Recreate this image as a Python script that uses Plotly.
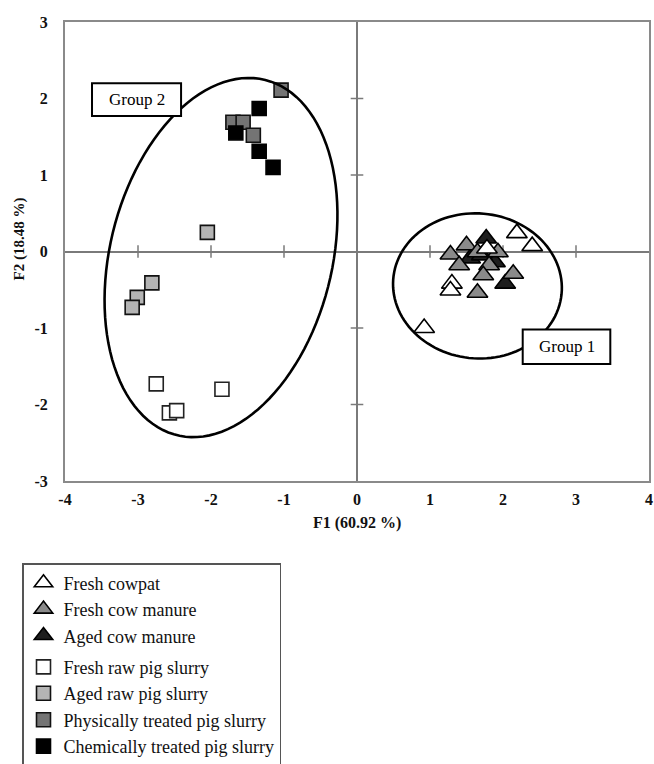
import numpy as np
import plotly.graph_objects as go

# ---------------- data ----------------
fresh_cowpat_x = [2.19, 2.40, 1.30, 1.28, 0.92, 1.78]
fresh_cowpat_y = [0.24, 0.07, -0.42, -0.51, -1.00, 0.04]

fresh_cow_manure_x = [1.28, 1.50, 1.65, 1.40, 1.93, 1.81, 1.73, 2.14, 1.65]
fresh_cow_manure_y = [-0.04, 0.08, -0.01, -0.18, -0.01, -0.18, -0.31, -0.29, -0.54]

aged_cow_manure_x = [1.77, 1.55, 2.03, 1.89, 1.71]
aged_cow_manure_y = [0.17, -0.09, -0.42, -0.14, -0.05]

fresh_raw_pig_x = [-2.75, -1.85, -2.57, -2.47]
fresh_raw_pig_y = [-1.73, -1.80, -2.11, -2.08]

aged_raw_pig_x = [-2.05, -2.81, -3.01, -3.08]
aged_raw_pig_y = [0.25, -0.41, -0.60, -0.73]

phys_pig_x = [-1.04, -1.70, -1.56, -1.42]
phys_pig_y = [2.11, 1.69, 1.69, 1.52]

chem_pig_x = [-1.34, -1.66, -1.34, -1.15]
chem_pig_y = [1.87, 1.55, 1.31, 1.10]

x_ticks = [-4, -3, -2, -1, 0, 1, 2, 3, 4]
y_ticks = [-3, -2, -1, 0, 1, 2, 3]

# ---------------- layout constants ----------------
W, H = 654, 764
ML, MR, MT, MB = 65, 5, 22, 283
SX = (W - ML - MR) / 8.0
SY = (H - MT - MB) / 6.0
SERIF = "Liberation Serif"


def ellipse_path(cx, cy, a_px, b_px, theta_deg, n=120):
    th = np.radians(theta_deg)
    t = np.linspace(0, 2 * np.pi, n)
    ux, uy = np.sin(th) / SX, np.cos(th) / SY
    vx, vy = np.cos(th) / SX, -np.sin(th) / SY
    xs = cx + a_px * np.cos(t) * ux + b_px * np.sin(t) * vx
    ys = cy + a_px * np.cos(t) * uy + b_px * np.sin(t) * vy
    d = "M " + " L ".join(f"{x:.4f},{y:.4f}" for x, y in zip(xs, ys)) + " Z"
    return d


fig = go.Figure()


def add(name, xs, ys, symbol, fill, line_col, rank, group, size):
    fig.add_trace(go.Scatter(
        x=xs, y=ys, mode="markers", name=name, legendrank=rank,
        legendgroup=group,
        marker=dict(symbol=symbol, size=size, color=fill,
                    line=dict(color=line_col, width=1.6)),
        hoverinfo="skip"))


# tick marks crossing the zero lines
xt = [v for v in x_ticks if v not in (0, -4, 4)]
yt = [v for v in y_ticks if v not in (0, -3, 3)]
fig.add_trace(go.Scatter(x=xt, y=[0] * len(xt), mode="markers", showlegend=False,
                         marker=dict(symbol="line-ns", size=9, line=dict(color="#7a7a7a", width=1.5)),
                         hoverinfo="skip"))
fig.add_trace(go.Scatter(x=[0] * len(yt), y=yt, mode="markers", showlegend=False,
                         marker=dict(symbol="line-ew", size=9, line=dict(color="#7a7a7a", width=1.5)),
                         hoverinfo="skip"))

add("Aged cow manure", aged_cow_manure_x, aged_cow_manure_y, "triangle-up", "#1e1e1e", "#000", 3, "g1", 18)
add("Fresh cow manure", fresh_cow_manure_x, fresh_cow_manure_y, "triangle-up", "#8a8a8a", "#000", 2, "g1", 18)
add("Fresh cowpat", fresh_cowpat_x, fresh_cowpat_y, "triangle-up", "#ffffff", "#000", 1, "g1", 18)
add("Fresh raw pig slurry", fresh_raw_pig_x, fresh_raw_pig_y, "square", "#ffffff", "#222", 4, "g2", 14)
add("Aged raw pig slurry", aged_raw_pig_x, aged_raw_pig_y, "square", "#b4b4b4", "#111", 5, "g2", 14)
add("Physically treated pig slurry", phys_pig_x, phys_pig_y, "square", "#747474", "#111", 6, "g2", 14)
add("Chemically treated pig slurry", chem_pig_x, chem_pig_y, "square", "#000000", "#000", 7, "g2", 14)

shapes = [
    dict(type="path", path=ellipse_path(-1.863, -0.079, 183, 111, 14),
         line=dict(color="#000", width=2.6), layer="above"),
    dict(type="path", path=ellipse_path(1.65, -0.45, 72.5, 84.5, 5),
         line=dict(color="#000", width=2.6), layer="above"),
    dict(type="rect", x0=-3.63, x1=-2.41, y0=1.77, y1=2.20,
         line=dict(color="#000", width=2), fillcolor="#fff", layer="above"),
    dict(type="rect", x0=2.27, x1=3.47, y0=-1.47, y1=-1.02,
         line=dict(color="#000", width=2), fillcolor="#fff", layer="above"),
]

title_font = dict(family=SERIF, size=16, color="#111", weight="bold")
annotations = [
    dict(x=-3.02, y=1.985, text="Group 2", showarrow=False,
         font=dict(family=SERIF, size=17, color="#000")),
    dict(x=2.87, y=-1.245, text="Group 1", showarrow=False,
         font=dict(family=SERIF, size=17, color="#000")),
    dict(xref="paper", yref="paper", x=0.5, y=0, yanchor="middle", xanchor="center",
         yshift=-42, text="F1 (60.92 %)", showarrow=False, font=title_font),
    dict(xref="paper", yref="paper", x=0, y=0.5, yanchor="middle", xanchor="center",
         xshift=-(ML - 19), yshift=12, textangle=-90, text="F2 (18.48 %)",
         showarrow=False, font=dict(family=SERIF, size=15, color="#111", weight="bold")),
]

axis_common = dict(showgrid=False, zeroline=True, zerolinecolor="#7a7a7a", zerolinewidth=1.5,
                   showline=True, mirror=True, linecolor="#8a8a8a", linewidth=2,
                   ticks="", automargin=False, ticklabeloverflow="allow",
                   tickfont=dict(family=SERIF, size=16, color="#111", weight="bold"))

fig.update_layout(
    width=W, height=H,
    margin=dict(l=ML, r=MR, t=MT, b=MB, autoexpand=False),
    paper_bgcolor="#fff", plot_bgcolor="#fff",
    xaxis=dict(range=[-4, 4], tickvals=x_ticks, ticktext=[str(v) for v in x_ticks],
               ticklabelstandoff=3, **axis_common),
    yaxis=dict(range=[-3, 3], tickvals=y_ticks, ticktext=[str(v) for v in y_ticks],
               ticklabelstandoff=12, **axis_common),
    shapes=shapes,
    annotations=annotations,
    showlegend=True,
    legend=dict(x=(22 - ML) / (W - ML - MR), y=(H - MB - 563) / (H - MT - MB),
                xanchor="left", yanchor="top",
                bordercolor="#555", borderwidth=1.5, bgcolor="#fff",
                font=dict(family=SERIF, size=18, color="#111"),
                tracegroupgap=5, itemwidth=30),
)

fig.write_html("out.html", config={"displayModeBar": False},
               post_script="document.body.style.margin='0px';document.body.style.overflow='hidden';")
